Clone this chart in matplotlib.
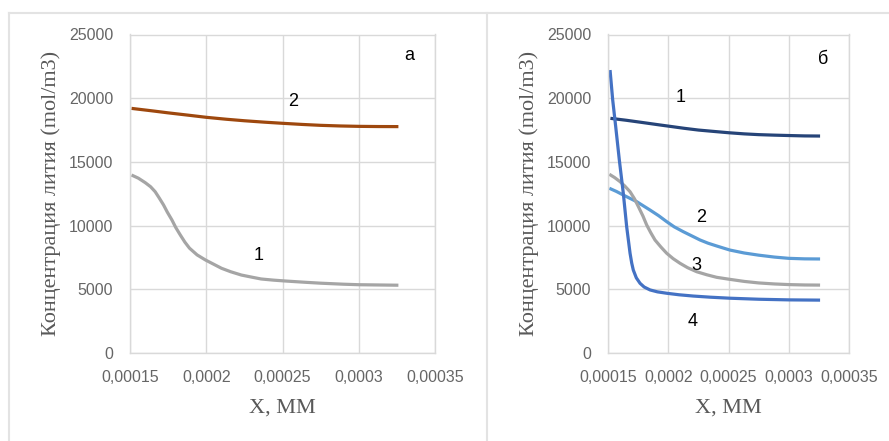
import matplotlib
matplotlib.use("Agg")
import matplotlib.pyplot as plt
from matplotlib.lines import Line2D

# ---- data ----
# panel a
xa1 = [0.000151, 0.0001555, 0.00016, 0.0001635, 0.0001665, 0.000169, 0.000172, 0.0001745,
       0.0001775, 0.00018, 0.000183, 0.000186, 0.000189, 0.000194, 0.0001995, 0.000205,
       0.00021, 0.000216, 0.000223, 0.00023, 0.000236, 0.000244, 0.000252, 0.000265,
       0.000275, 0.00029, 0.0003, 0.000326]
ya1 = [13970, 13720, 13370, 13050, 12660, 12200, 11620, 11050,
       10440, 9850, 9260, 8700, 8230, 7700, 7300, 6960,
       6650, 6380, 6120, 5950, 5810, 5720, 5650, 5550,
       5480, 5400, 5360, 5320]
xa2 = [0.000151, 0.000165, 0.000175, 0.000188, 0.0002, 0.000213, 0.000225, 0.000238, 0.00025,
       0.000263, 0.000275, 0.000288, 0.0003, 0.000313, 0.000326]
ya2 = [19200, 19000, 18850, 18670, 18500, 18350, 18230, 18120, 18030,
       17940, 17870, 17820, 17790, 17775, 17770]

# panel б
xb1 = [0.000152, 0.000165, 0.000178, 0.000193, 0.0002, 0.000213, 0.000225, 0.000238, 0.00025,
       0.000263, 0.000275, 0.000288, 0.0003, 0.000313, 0.000326]
yb1 = [18420, 18270, 18100, 17900, 17810, 17640, 17500, 17390, 17290,
       17200, 17140, 17100, 17070, 17040, 17030]
xb2 = [0.0001511, 0.000157, 0.0001627, 0.000168, 0.0001738, 0.000179, 0.0001849, 0.000192,
       0.0001987, 0.000205, 0.0002125, 0.00022, 0.0002264, 0.000233, 0.0002402, 0.000246,
       0.0002512, 0.000263, 0.000275, 0.000288, 0.0003, 0.000313, 0.000326]
yb2 = [12930, 12680, 12400, 12150, 11880, 11570, 11220, 10780,
       10310, 9900, 9520, 9170, 8870, 8620, 8400, 8230,
       8080, 7850, 7680, 7530, 7430, 7390, 7380]
xb3 = [0.0001511, 0.0001555, 0.00016, 0.000164, 0.0001683, 0.000172, 0.0001752, 0.000179,
       0.0001821, 0.0001855, 0.000189, 0.000194, 0.0001987, 0.000204, 0.0002098, 0.000216,
       0.0002236, 0.000232, 0.0002402, 0.0002512, 0.000263, 0.000275, 0.000288, 0.0003,
       0.000313, 0.000326]
yb3 = [14030, 13770, 13450, 13100, 12660, 12100, 11490, 10750,
       10050, 9440, 8870, 8310, 7830, 7410, 7040, 6700,
       6380, 6140, 5940, 5780, 5620, 5500, 5420, 5370,
       5340, 5330]
xb4 = [0.0001517, 0.0001539, 0.0001564, 0.0001594, 0.0001627, 0.0001655, 0.0001683, 0.0001697,
       0.000171, 0.0001735, 0.0001766, 0.00018, 0.0001849, 0.000191, 0.0001987, 0.000209,
       0.0002208, 0.000235, 0.0002512, 0.000275, 0.0003, 0.000326]
yb4 = [22210, 19860, 17760, 15150, 12540, 9910, 7830, 7050,
       6510, 5900, 5470, 5180, 4950, 4800, 4690, 4570,
       4470, 4380, 4300, 4220, 4170, 4150]

xticks = [0.00015, 0.0002, 0.00025, 0.0003, 0.00035]
xtick_labels = ["0,00015", "0,0002", "0,00025", "0,0003", "0,00035"]
yticks = [0, 5000, 10000, 15000, 20000, 25000]

W, H = 889, 441
fig = plt.figure(figsize=(W / 100, H / 100), dpi=100)

def ax_rect(l, r, t, b):
    return [l / W, 1 - b / H, (r - l) / W, (b - t) / H]

axA = fig.add_axes(ax_rect(130, 435, 34.5, 353))
axB = fig.add_axes(ax_rect(608, 849, 34.5, 353))

tick_font = dict(family=["Liberation Sans", "DejaVu Sans"], size=11.5, color="#666666")
lab_font = dict(family=["Liberation Serif", "DejaVu Serif"], size=16, color="#595959")

for ax in (axA, axB):
    ax.set_xlim(0.00015, 0.00035)
    ax.set_ylim(0, 25000)
    ax.set_xticks(xticks)
    ax.set_yticks(yticks)
    ax.set_yticklabels([str(v) for v in yticks], **tick_font)
    ax.set_xticklabels(xtick_labels, **tick_font)
    ax.grid(True, color="#D9D9D9", lw=1)
    ax.set_axisbelow(True)
    for s in ax.spines.values():
        s.set_color("#D9D9D9")
        s.set_linewidth(1)
    ax.tick_params(axis="y", length=0, pad=12)
    ax.tick_params(axis="x", length=0, pad=12)
    ax.set_xlabel("X, MM", labelpad=10, **lab_font)
    ax.set_ylabel("Концентрация лития (mol/m3)", labelpad=6, **lab_font)

lw = 2.3
axA.plot(xa1, ya1, color="#A5A5A5", lw=lw, solid_capstyle="butt", solid_joinstyle="round")
axA.plot(xa2, ya2, color="#9E480E", lw=lw, solid_capstyle="butt", solid_joinstyle="round")

axB.plot(xb1, yb1, color="#264478", lw=lw, solid_capstyle="butt", solid_joinstyle="round")
axB.plot(xb2, yb2, color="#5B9BD5", lw=lw, solid_capstyle="butt", solid_joinstyle="round")
axB.plot(xb3, yb3, color="#A5A5A5", lw=lw, solid_capstyle="butt", solid_joinstyle="round")
axB.plot(xb4, yb4, color="#4472C4", lw=lw, solid_capstyle="butt", solid_joinstyle="round")

num_font = dict(family=["Liberation Sans", "DejaVu Sans"], size=13, color="black",
                ha="center", va="center")
def fig_text(x, y, s):
    fig.text(x / W, 1 - y / H, s, **num_font)

fig_text(409, 55, "a")
fig_text(293, 101, "2")
fig_text(259, 255, "1")
fig_text(823, 59, "б")
fig_text(681, 98, "1")
fig_text(701, 217, "2")
fig_text(696, 265, "3")
fig_text(693, 322, "4")

# outer frame lines
fc = "#E3E3E3"
fig.add_artist(Line2D([9 / W, 9 / W], [0, 1 - 13 / H], transform=fig.transFigure, color=fc, lw=1.5))
fig.add_artist(Line2D([487 / W, 487 / W], [0, 1 - 13 / H], transform=fig.transFigure, color=fc, lw=1.5))
fig.add_artist(Line2D([9 / W, 1], [1 - 13 / H, 1 - 13 / H], transform=fig.transFigure, color=fc, lw=1.5))

fig.savefig("out.png", dpi=100)
